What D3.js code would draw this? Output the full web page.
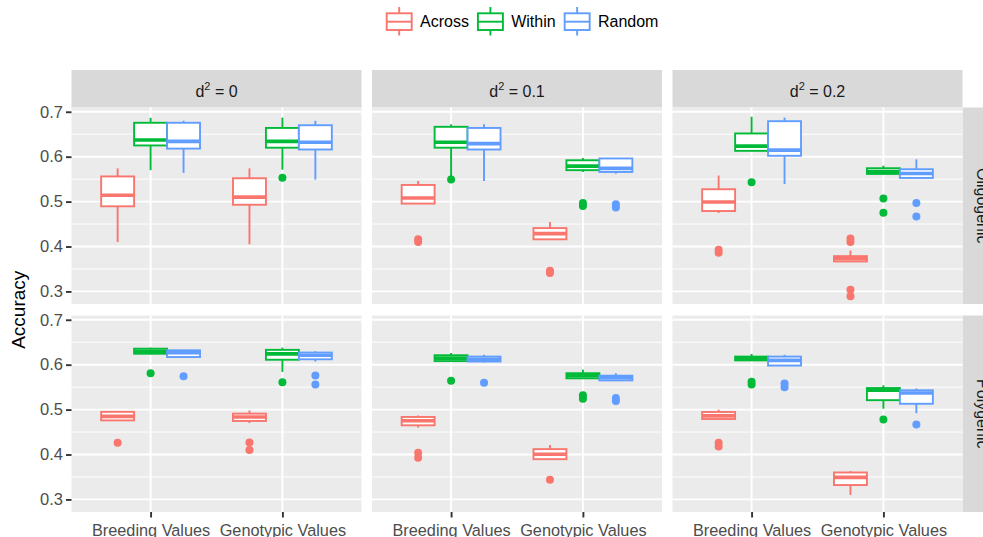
<!DOCTYPE html>
<html>
<head>
<meta charset="utf-8">
<script src="https://cdn.jsdelivr.net/npm/d3@7"></script>
<style>
  body { margin: 0; background: #fff; }
  svg { display: block; }
  text { font-family: "Liberation Sans", Arial, Helvetica, sans-serif; }
</style>
</head>
<body>
<svg id="chart" width="983" height="537"></svg>
<script>
// Facets, categories and groups
const architectures = ["Oligogenic", "Polygenic"];
const dominanceLevels = ["0", "0.1", "0.2"];
const traits = ["Breeding Values", "Genotypic Values"];
const methods = ["Across", "Within", "Random"];
const methodColors = ["#F8766D", "#00BA38", "#619CFF"];
const yTicks = [0.3, 0.4, 0.5, 0.6, 0.7];
const yMinorTicks = [0.35, 0.45, 0.55, 0.65];
const yDomain = [0.272, 0.7095];

// Five-number summaries: [lower whisker, Q1, median, Q3, upper whisker]
// Order: Oligogenic (d2 = 0, 0.1, 0.2) then Polygenic (d2 = 0, 0.1, 0.2);
// inside each facet: Breeding Values, Genotypic Values
const acrossStats = [
  [0.410, 0.4895, 0.514, 0.556, 0.574], [0.405, 0.493, 0.510, 0.552, 0.574],
  [0.4955, 0.4955, 0.508, 0.537, 0.546], [0.415, 0.416, 0.4286, 0.441, 0.4545],
  [0.4746, 0.479, 0.499, 0.5275, 0.558], [0.366, 0.3667, 0.3728, 0.3786, 0.391],
  [0.475, 0.476, 0.485, 0.495, 0.497], [0.470, 0.4747, 0.4836, 0.491, 0.498],
  [0.460, 0.465, 0.475, 0.4836, 0.487], [0.389, 0.3896, 0.4007, 0.412, 0.421],
  [0.478, 0.479, 0.486, 0.4947, 0.500], [0.310, 0.332, 0.349, 0.360, 0.363]
];
const withinStats = [
  [0.570, 0.625, 0.637, 0.6755, 0.6866], [0.571, 0.620, 0.634, 0.664, 0.687],
  [0.555, 0.620, 0.632, 0.6665, 0.672], [0.566, 0.570, 0.579, 0.592, 0.597],
  [0.613, 0.613, 0.6234, 0.6517, 0.689], [0.561, 0.5616, 0.567, 0.5743, 0.580],
  [0.623, 0.6244, 0.630, 0.6356, 0.638], [0.584, 0.611, 0.624, 0.633, 0.638],
  [0.607, 0.608, 0.6147, 0.621, 0.626], [0.569, 0.5696, 0.5755, 0.581, 0.589],
  [0.609, 0.6096, 0.614, 0.618, 0.624], [0.502, 0.521, 0.543, 0.548, 0.554]
];
const randomStats = [
  [0.564, 0.618, 0.634, 0.6755, 0.680], [0.549, 0.616, 0.632, 0.670, 0.680],
  [0.546, 0.616, 0.629, 0.664, 0.672], [0.562, 0.566, 0.574, 0.596, 0.597],
  [0.539, 0.602, 0.6145, 0.679, 0.687], [0.552, 0.5527, 0.5625, 0.572, 0.594],
  [0.616, 0.617, 0.6267, 0.632, 0.633], [0.607, 0.612, 0.621, 0.627, 0.630],
  [0.605, 0.607, 0.612, 0.618, 0.622], [0.565, 0.565, 0.571, 0.5755, 0.581],
  [0.597, 0.598, 0.6096, 0.618, 0.622], [0.492, 0.513, 0.537, 0.543, 0.547]
];

// Outlying replicates, same order as the summaries
const acrossOutliers = [
  [], [],
  [0.410, 0.416], [0.341, 0.346],
  [0.386, 0.393], [0.289, 0.304, 0.410, 0.418],
  [0.426], [0.410, 0.427],
  [0.393, 0.404], [0.344],
  [0.418, 0.426], []
];
const withinOutliers = [
  [], [0.553],
  [0.549], [0.490, 0.497],
  [0.543], [0.475, 0.507],
  [0.581], [0.561],
  [0.564], [0.524, 0.532],
  [0.556, 0.562], [0.478]
];
const randomOutliers = [
  [], [],
  [], [0.487, 0.494],
  [], [0.467, 0.497],
  [0.574], [0.556, 0.576],
  [0.560], [0.519, 0.526],
  [0.550, 0.558], [0.467]
];

const statsByMethod = [acrossStats, withinStats, randomStats];
const outliersByMethod = [acrossOutliers, withinOutliers, randomOutliers];

// ---- layout ----
const panelW = 290, panelH = 196.5;
const colLeft = [71.5, 372, 672.5];
const rowTop = [107.5, 315.5];
const stripTop = 70;
const stripW = 37;

const svg = d3.select("#chart");

const x = d3.scalePoint().domain(traits).range([0, panelW]).padding(0.6);
const step = x.step();
const dodge = d3.scaleBand().domain(methods).range([-0.375 * step, 0.375 * step]);
const boxW = dodge.bandwidth();

const yScales = rowTop.map(t => d3.scaleLinear().domain(yDomain).range([t + panelH, t]));

const boxStroke = 1.9, medianStroke = 3.6, majorGrid = 1.9, minorGrid = 0.95;

// Column strips
dominanceLevels.forEach((d, c) => {
  const g = svg.append("g");
  g.append("rect").attr("x", colLeft[c]).attr("y", stripTop)
    .attr("width", panelW).attr("height", rowTop[0] - stripTop).attr("fill", "#D9D9D9");
  const t = g.append("text").attr("x", colLeft[c] + panelW / 2).attr("y", 96.5)
    .attr("text-anchor", "middle").attr("font-size", 16).attr("fill", "#1A1A1A");
  t.append("tspan").text("d");
  t.append("tspan").attr("font-size", 11).attr("dy", -6.5).text("2");
  t.append("tspan").attr("dy", 6.5).text(" = " + d);
});

// Row strips (the right edge of the figure trims them)
architectures.forEach((a, r) => {
  svg.append("rect").attr("x", colLeft[2] + panelW).attr("y", rowTop[r])
    .attr("width", stripW).attr("height", panelH).attr("fill", "#D9D9D9");
  svg.append("text")
    .attr("transform", `translate(${976.5},${rowTop[r] + panelH / 2}) rotate(90)`)
    .attr("text-anchor", "middle").attr("font-size", 16).attr("fill", "#1A1A1A")
    .text(a);
});

// Panels
architectures.forEach((a, r) => {
  const y = yScales[r];
  dominanceLevels.forEach((d, c) => {
    const g = svg.append("g").attr("transform", `translate(${colLeft[c]},0)`);
    g.append("rect").attr("x", 0).attr("y", rowTop[r])
      .attr("width", panelW).attr("height", panelH).attr("fill", "#EBEBEB");

    g.selectAll(".minor").data(yMinorTicks).join("line")
      .attr("x1", 0).attr("x2", panelW)
      .attr("y1", v => y(v)).attr("y2", v => y(v))
      .attr("stroke", "#fff").attr("stroke-width", minorGrid);
    g.selectAll(".major").data(yTicks).join("line")
      .attr("x1", 0).attr("x2", panelW)
      .attr("y1", v => y(v)).attr("y2", v => y(v))
      .attr("stroke", "#fff").attr("stroke-width", majorGrid);
    g.selectAll(".vgrid").data(traits).join("line")
      .attr("x1", t => x(t)).attr("x2", t => x(t))
      .attr("y1", rowTop[r]).attr("y2", rowTop[r] + panelH)
      .attr("stroke", "#fff").attr("stroke-width", majorGrid);

    traits.forEach((t, ti) => {
      const idx = r * 6 + c * 2 + ti;
      methods.forEach((m, mi) => {
        const s = statsByMethod[mi][idx];
        const col = methodColors[mi];
        const cx = x(t) + dodge(m) + boxW / 2;
        const bx = g.append("g");
        bx.append("line").attr("x1", cx).attr("x2", cx)
          .attr("y1", y(s[3])).attr("y2", y(s[4]))
          .attr("stroke", col).attr("stroke-width", boxStroke);
        bx.append("line").attr("x1", cx).attr("x2", cx)
          .attr("y1", y(s[1])).attr("y2", y(s[0]))
          .attr("stroke", col).attr("stroke-width", boxStroke);
        bx.append("rect").attr("x", cx - boxW / 2).attr("y", y(s[3]))
          .attr("width", boxW).attr("height", Math.max(0.5, y(s[1]) - y(s[3])))
          .attr("fill", "#fff").attr("stroke", col).attr("stroke-width", boxStroke);
        bx.append("line").attr("x1", cx - boxW / 2).attr("x2", cx + boxW / 2)
          .attr("y1", y(s[2])).attr("y2", y(s[2]))
          .attr("stroke", col).attr("stroke-width", medianStroke);
        bx.selectAll("circle").data(outliersByMethod[mi][idx]).join("circle")
          .attr("cx", cx).attr("cy", v => y(v)).attr("r", 4).attr("fill", col);
      });
    });
  });
});

// Y axes (left column only)
rowTop.forEach((t, r) => {
  const y = yScales[r];
  const ax = svg.append("g").attr("transform", `translate(${colLeft[0]},0)`)
    .call(d3.axisLeft(y).tickValues(yTicks).tickFormat(d3.format(".1f")).tickSize(5.5).tickPadding(3));
  ax.select(".domain").remove();
  ax.selectAll(".tick line").attr("stroke", "#333333").attr("stroke-width", 1.9);
  ax.selectAll(".tick text").attr("fill", "#4D4D4D").attr("font-size", 16.5)
    .attr("font-family", "Liberation Sans, Arial, sans-serif");
});

// X axes (bottom row)
colLeft.forEach(cl => {
  const ax = svg.append("g").attr("transform", `translate(${cl},${rowTop[1] + panelH})`)
    .call(d3.axisBottom(x).tickSize(5.5).tickPadding(6.5));
  ax.select(".domain").remove();
  ax.selectAll(".tick line").attr("stroke", "#333333").attr("stroke-width", 1.9);
  ax.selectAll(".tick text").attr("fill", "#4D4D4D").attr("font-size", 16.3)
    .attr("font-family", "Liberation Sans, Arial, sans-serif");
});

// Y axis title
svg.append("text")
  .attr("transform", `translate(24.5,${(rowTop[0] + rowTop[1] + panelH) / 2}) rotate(-90)`)
  .attr("text-anchor", "middle").attr("font-size", 19).attr("fill", "#000")
  .text("Accuracy");

// Legend
const legend = svg.append("g");
let lx = 386.7;
const keyW = 25, keyTop = 13.3, keyBot = 30, keyMid = 21.7;
methods.forEach((m, i) => {
  const col = methodColors[i];
  const k = legend.append("g");
  const cx = lx + keyW / 2;
  k.append("line").attr("x1", cx).attr("x2", cx).attr("y1", 7).attr("y2", keyTop)
    .attr("stroke", col).attr("stroke-width", 1.9);
  k.append("line").attr("x1", cx).attr("x2", cx).attr("y1", keyBot).attr("y2", 35.5)
    .attr("stroke", col).attr("stroke-width", 1.9);
  k.append("rect").attr("x", lx).attr("y", keyTop).attr("width", keyW).attr("height", keyBot - keyTop)
    .attr("fill", "#fff").attr("stroke", col).attr("stroke-width", 1.9);
  k.append("line").attr("x1", lx).attr("x2", lx + keyW).attr("y1", keyMid).attr("y2", keyMid)
    .attr("stroke", col).attr("stroke-width", 1.9);
  const t = legend.append("text").attr("x", lx + 33.3).attr("y", 27.4)
    .attr("font-size", 16).attr("fill", "#000").text(m);
  lx = lx + 33.3 + t.node().getComputedTextLength() + 9;
});
</script>
</body>
</html>
